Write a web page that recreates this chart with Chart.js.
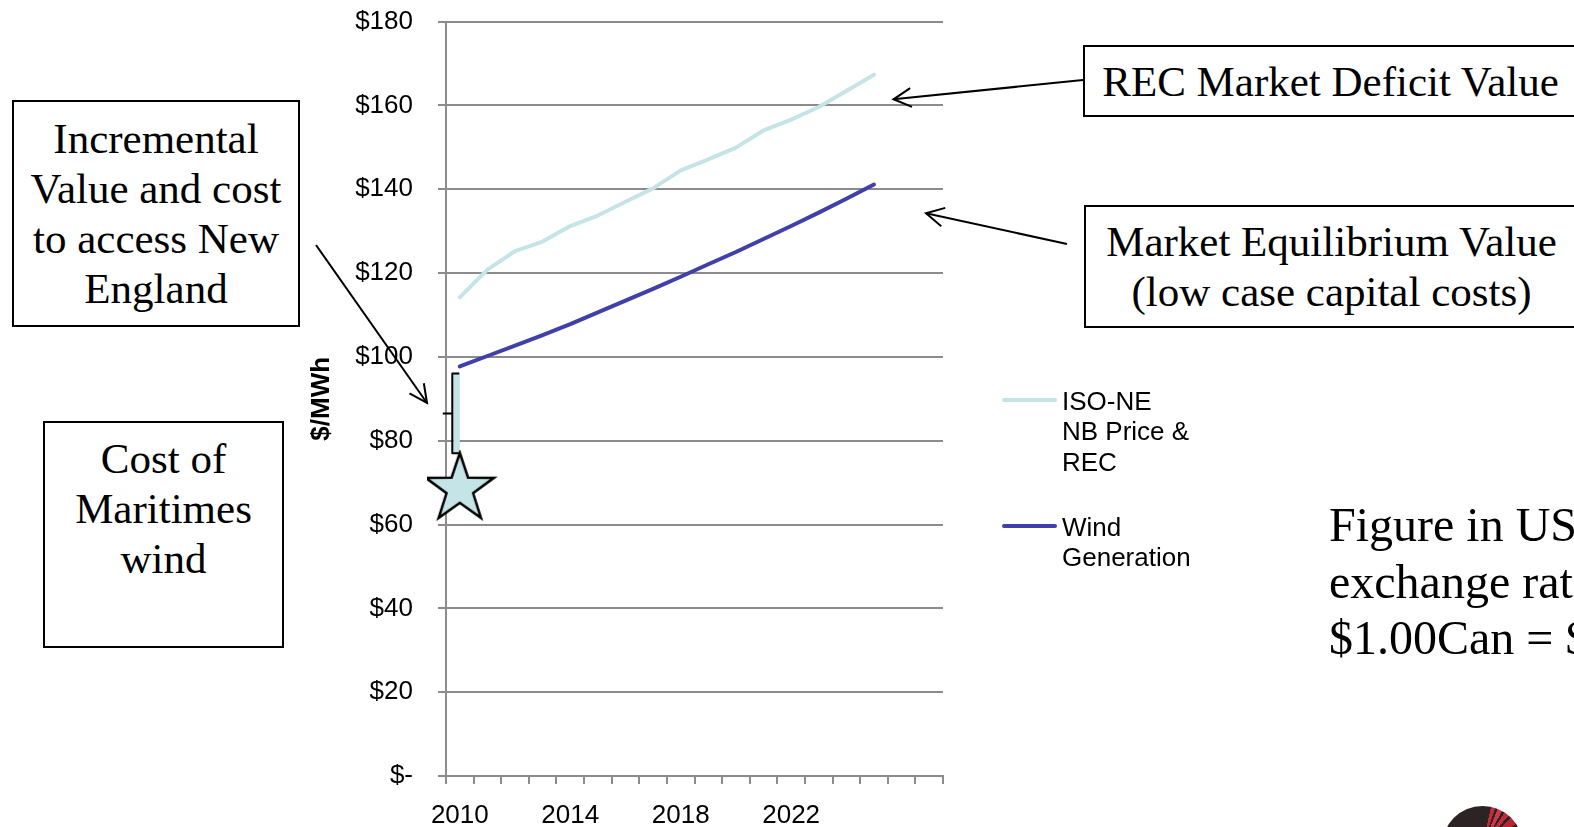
<!DOCTYPE html>
<html>
<head>
<meta charset="utf-8">
<title>Wind value vs. ISO-NE price</title>
<script src="https://cdn.jsdelivr.net/npm/chart.js@4.4.1/dist/chart.umd.min.js"></script>
<style>
  html, body { margin: 0; padding: 0; background: #fff; }
  body { width: 1574px; height: 827px; position: relative; overflow: hidden; }
  #chart { position: absolute; left: 0; top: 0; }
  #arrows { position: absolute; left: 0; top: 0; pointer-events: none; }
  .box {
    position: absolute; box-sizing: border-box; border: 2px solid #000; background: #fff;
    font-family: 'Liberation Serif', 'Times New Roman', serif; font-size: 43px; line-height: 50px;
    text-align: center; color: #000; white-space: nowrap;
  }
  #boxRec   { left: 1083px; top: 45px;  width: 495px; height: 72px;  padding-top: 10px; }
  #boxEq    { left: 1084px; top: 205px; width: 495px; height: 123px; padding-top: 10.2px; }
  #boxIncr  { left: 12px;   top: 100px; width: 288px; height: 227px; padding-top: 11.7px; }
  #boxCost  { left: 43px;   top: 421px; width: 241px; height: 227px; padding-top: 11.3px; }
  #note {
    position: absolute; left: 1329px; top: 497px; white-space: nowrap;
    font-family: 'Liberation Serif', 'Times New Roman', serif; font-size: 48px; line-height: 56.7px; color: #000;
  }
  #legend { position: absolute; left: 1002px; top: 385.5px; font-family: 'Liberation Sans', Arial, sans-serif;
            font-size: 26px; line-height: 30.5px; color: #000; }
  #legend .item { position: relative; padding-left: 60px; white-space: nowrap; }
  #legend .item + .item { margin-top: 34.6px; }
  #legend .swatch { position: absolute; left: 0; top: 12.5px; width: 55px; height: 4px; border-radius: 2px; }
  #logo {
    position: absolute; left: 1442px; top: 806px; width: 81px; height: 81px; border-radius: 50%;
    background: conic-gradient(#2b2324 0deg 12deg, #c32a3a 12deg 18deg, #2b2324 18deg 22deg,
      #d0384a 22deg 29deg, #2b2324 29deg 33deg, #c32a3a 33deg 40deg, #2b2324 40deg 44deg,
      #b82434 44deg 56deg, #2b2324 56deg 360deg);
  }
</style>
</head>
<body>
<canvas id="chart" width="1574" height="827"></canvas>

<div class="box" id="boxRec">REC Market Deficit Value</div>
<div class="box" id="boxEq">Market Equilibrium Value<br>(low case capital costs)</div>
<div class="box" id="boxIncr">Incremental<br>Value and cost<br>to access New<br>England</div>
<div class="box" id="boxCost">Cost of<br>Maritimes<br>wind</div>
<div id="note">Figure in US<br>exchange rate<br>$1.00Can = $</div>
<div id="legend"></div>
<div id="logo"></div>

<svg id="arrows" width="1574" height="827"></svg>

<script>
// Years on the category axis (the last two carry no data)
const years = [2010, 2011, 2012, 2013, 2014, 2015, 2016, 2017, 2018,
               2019, 2020, 2021, 2022, 2023, 2024, 2025, 2026, 2027];
// Years that get a printed tick label
const labelledYears = [2010, 2014, 2018, 2022];

// $/MWh, one value per year from 2010
const isoNePriceRec = [114.2, 120.8, 125.2, 127.5, 131.2, 133.7, 137.0, 140.2,
                       144.5, 147.1, 149.9, 154.0, 156.6, 159.6, 163.4, 167.3];
const windGeneration = [97.7, 100.2, 102.7, 105.2, 107.8, 110.6, 113.4, 116.2,
                        119.1, 122.1, 125.0, 128.1, 131.2, 134.4, 137.7, 141.1];

// Cost of Maritimes wind in 2010 (star) and the access band above it
const maritimesWindCost = [68.5];
const accessBand = [77, 96];

// Y-axis ticks
const yTicks = [0, 20, 40, 60, 80, 100, 120, 140, 160, 180];

// Legend text, line by line
const seriesNames = [['ISO-NE', 'NB Price &', 'REC'], ['Wind', 'Generation']];

const lightBlue = '#c5e4e7';
const darkBlue = '#4040aa';
const gridGray = '#8c8c8c';

Chart.defaults.font.family = "'Liberation Sans', Arial, sans-serif";
Chart.defaults.color = '#000';

// Five-point star used as the point style for the wind-cost marker
function makeStar(R, r, fill) {
  const c = document.createElement('canvas');
  const size = Math.ceil(2 * R + 6);
  c.width = size; c.height = size;
  const g = c.getContext('2d');
  const cx = size / 2, cy = size / 2;
  g.beginPath();
  for (let k = 0; k < 10; k++) {
    const rad = k % 2 === 0 ? R : r;
    const a = -Math.PI / 2 + k * Math.PI / 5;
    const px = cx + rad * Math.cos(a), py = cy + rad * Math.sin(a);
    if (k === 0) g.moveTo(px, py); else g.lineTo(px, py);
  }
  g.closePath();
  g.fillStyle = fill; g.fill();
  g.lineWidth = 2.5; g.strokeStyle = '#000'; g.lineJoin = 'miter'; g.stroke();
  return c;
}
const starImage = makeStar(36, 14, lightBlue);

// Shaded band with a bracket, placed on the first category
const accessBandPlugin = {
  id: 'accessBand',
  beforeDatasetsDraw(chart) {
    const { ctx, scales: { x, y } } = chart;
    const cx = x.getPixelForValue(0);
    const top = y.getPixelForValue(accessBand[1]);
    const bot = y.getPixelForValue(accessBand[0]);
    ctx.save();
    ctx.fillStyle = lightBlue;
    ctx.fillRect(cx - 6.5, top, 6.5, bot - top);
    ctx.strokeStyle = '#000';
    ctx.lineWidth = 2;
    ctx.lineJoin = 'round';
    ctx.beginPath();
    ctx.moveTo(cx - 0.5, top);
    ctx.lineTo(cx - 7.5, top);
    ctx.lineTo(cx - 7.5, bot);
    ctx.lineTo(cx - 0.5, bot);
    const mid = (top + bot) / 2;
    ctx.moveTo(cx - 7.5, mid);
    ctx.lineTo(cx - 17, mid);
    ctx.stroke();
    ctx.restore();
  }
};

const chart = new Chart(document.getElementById('chart'), {
  type: 'line',
  data: {
    labels: years.map(String),
    datasets: [
      {
        label: 'Cost of Maritimes wind',
        data: maritimesWindCost,
        showLine: false,
        pointStyle: starImage,
        pointRadius: 18,
        pointHoverRadius: 18
      },
      {
        label: seriesNames[0].join(' '),
        data: isoNePriceRec,
        borderColor: lightBlue,
        backgroundColor: lightBlue,
        borderWidth: 4,
        pointRadius: 0,
        tension: 0,
        borderCapStyle: 'round',
        borderJoinStyle: 'round'
      },
      {
        label: seriesNames[1].join(' '),
        data: windGeneration,
        borderColor: darkBlue,
        backgroundColor: darkBlue,
        borderWidth: 4,
        pointRadius: 0,
        tension: 0,
        borderCapStyle: 'round',
        borderJoinStyle: 'round'
      }
    ]
  },
  options: {
    responsive: false,
    animation: false,
    devicePixelRatio: 1,
    layout: { padding: { left: 290, top: 21.5, right: 631, bottom: 0 } },
    plugins: { legend: { display: false }, tooltip: { enabled: false } },
    scales: {
      x: {
        type: 'category',
        offset: true,
        grid: { offset: true, drawOnChartArea: false, drawTicks: true, tickLength: 8, color: gridGray, lineWidth: 2 },
        border: { display: true, color: gridGray, width: 2 },
        ticks: {
          autoSkip: false, maxRotation: 0, minRotation: 0, padding: 16,
          font: { size: 26 }, color: '#000',
          callback(value, index) {
            return labelledYears.includes(years[index]) ? String(years[index]) : '';
          }
        },
        afterFit(scale) {
          scale.height = 51;
          scale.paddingLeft = 0; scale.paddingRight = 0;
        }
      },
      y: {
        min: yTicks[0],
        max: yTicks[yTicks.length - 1],
        afterBuildTicks(scale) { scale.ticks = yTicks.map(v => ({ value: v })); },
        grid: { color: gridGray, lineWidth: 2, tickLength: 8 },
        border: { display: true, color: gridGray, width: 2 },
        ticks: {
          padding: 25, font: { size: 26 }, color: '#000',
          callback: v => (v === 0 ? '$-' : '$' + v)
        },
        title: {
          display: true, text: '$/MWh', color: '#000',
          font: { size: 26, weight: 'bold' }, padding: { top: 16.5, bottom: 0 }
        },
        afterFit(scale) {
          scale.width = 156;
          scale.paddingTop = 0; scale.paddingBottom = 0;
        }
      }
    }
  },
  plugins: [accessBandPlugin]
});

// Legend built from the two price series
const legendEl = document.getElementById('legend');
chart.data.datasets.slice(1).forEach((ds, i) => {
  const item = document.createElement('div');
  item.className = 'item';
  const sw = document.createElement('span');
  sw.className = 'swatch';
  sw.style.background = ds.borderColor;
  item.appendChild(sw);
  seriesNames[i].forEach((line, j) => {
    if (j) item.appendChild(document.createElement('br'));
    item.appendChild(document.createTextNode(line));
  });
  legendEl.appendChild(item);
});

// Callout arrows
const svg = document.getElementById('arrows');
function arrow(x1, y1, x2, y2, len, angDeg) {
  const NS = 'http://www.w3.org/2000/svg';
  const a = Math.atan2(y2 - y1, x2 - x1);
  const ang = angDeg * Math.PI / 180;
  const line = document.createElementNS(NS, 'line');
  line.setAttribute('x1', x1); line.setAttribute('y1', y1);
  line.setAttribute('x2', x2); line.setAttribute('y2', y2);
  line.setAttribute('stroke', '#000'); line.setAttribute('stroke-width', '2');
  svg.appendChild(line);
  const h = document.createElementNS(NS, 'polyline');
  const p1 = [x2 - len * Math.cos(a - ang), y2 - len * Math.sin(a - ang)];
  const p2 = [x2 - len * Math.cos(a + ang), y2 - len * Math.sin(a + ang)];
  h.setAttribute('points', `${p1[0]},${p1[1]} ${x2},${y2} ${p2[0]},${p2[1]}`);
  h.setAttribute('fill', 'none'); h.setAttribute('stroke', '#000'); h.setAttribute('stroke-width', '2');
  svg.appendChild(h);
}
arrow(1083, 80, 893.5, 99.3, 20, 28);
arrow(1067, 244, 926, 213.3, 20, 28);
arrow(316, 245, 427, 403, 20, 26);
</script>
</body>
</html>
